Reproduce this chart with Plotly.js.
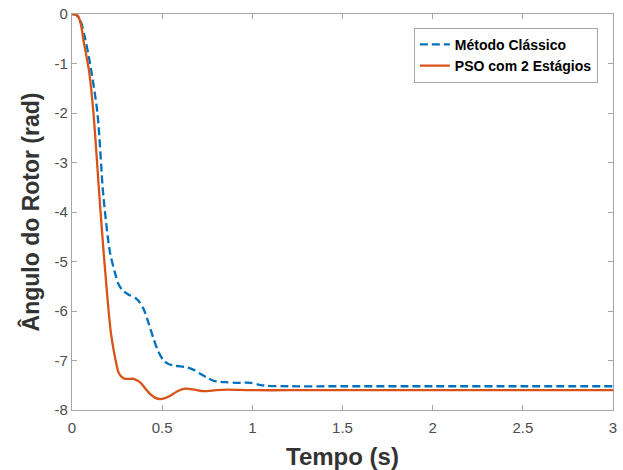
<!DOCTYPE html>
<html>
<head>
<meta charset="utf-8">
<script src="https://cdn.plot.ly/plotly-3.0.1.min.js"></script>
<style>html,body{margin:0;padding:0;background:#fff;}#chart{width:623px;height:470px;}</style>
</head>
<body>
<div id="chart"></div>
<script>
// Método Clássico
const tClassico = [0, 0.02, 0.045, 0.07, 0.1, 0.141, 0.174, 0.211, 0.24, 0.258, 0.28, 0.31, 0.36, 0.397, 0.425, 0.453, 0.48, 0.508, 0.535, 0.564, 0.6, 0.638, 0.675, 0.712, 0.75, 0.786, 0.82, 0.86, 0.92, 0.99, 1.04, 1.08, 1.2, 1.5, 2, 2.5, 3];
const yClassico = [0, -0.01, -0.12, -0.45, -1.0, -2.0, -3.68, -4.82, -5.25, -5.46, -5.58, -5.66, -5.76, -5.96, -6.25, -6.57, -6.83, -7.0, -7.07, -7.1, -7.12, -7.14, -7.19, -7.27, -7.35, -7.41, -7.43, -7.44, -7.45, -7.45, -7.49, -7.51, -7.52, -7.52, -7.52, -7.52, -7.52];
// PSO com 2 Estágios
const tPSO = [0, 0.02, 0.035, 0.05, 0.063, 0.08, 0.096, 0.119, 0.152, 0.174, 0.19, 0.202, 0.215, 0.23, 0.245, 0.258, 0.275, 0.295, 0.32, 0.341, 0.36, 0.378, 0.405, 0.434, 0.46, 0.49, 0.515, 0.545, 0.585, 0.628, 0.68, 0.73, 0.8, 0.86, 0.99, 1.2, 1.5, 2, 2.5, 3];
const yPSO = [0, -0.01, -0.05, -0.22, -0.52, -0.85, -1.19, -2.0, -3.68, -4.75, -5.45, -5.96, -6.42, -6.77, -7.05, -7.24, -7.33, -7.37, -7.37, -7.37, -7.40, -7.44, -7.56, -7.68, -7.75, -7.78, -7.76, -7.71, -7.62, -7.57, -7.59, -7.62, -7.6, -7.59, -7.6, -7.6, -7.6, -7.6, -7.6, -7.6];

const xTickVals = [0, 0.5, 1, 1.5, 2, 2.5, 3];
const xTickText = ["0", "0.5", "1", "1.5", "2", "2.5", "3"];
const yTickVals = [0, -1, -2, -3, -4, -5, -6, -7, -8];
const yTickText = ["0", "-1", "-2", "-3", "-4", "-5", "-6", "-7", "-8"];

const traces = [
  {x: tClassico, y: yClassico, name: "Método Clássico", type: "scatter", mode: "lines",
   line: {color: "#0072BD", width: 2.3, dash: "8px,4px", shape: "spline", smoothing: 0.8}},
  {x: tPSO, y: yPSO, name: "PSO com 2 Estágios", type: "scatter", mode: "lines",
   line: {color: "#D95319", width: 2.3, shape: "spline", smoothing: 0.8}}
];

const axisCommon = {
  showgrid: false, zeroline: false, showline: true, mirror: "ticks", automargin: false,
  linecolor: "#a6a6a6", linewidth: 1.2, ticks: "inside", ticklen: 5, tickcolor: "#a6a6a6",
  tickfont: {family: "Liberation Sans, Arial, sans-serif", size: 15, color: "#4d4d4d"}
};

const layout = {
  width: 623, height: 470,
  margin: {l: 72, r: 10, t: 14, b: 60},
  paper_bgcolor: "#fff", plot_bgcolor: "#fff",
  showlegend: true,
  xaxis: Object.assign({}, axisCommon, {
    range: [0, 3], tickvals: xTickVals, ticktext: xTickText, ticklabelstandoff: 4,
    title: {text: "Tempo (s)", standoff: 16, font: {family: "Liberation Sans, Arial, sans-serif", size: 24, weight: "bold", color: "#333"}}
  }),
  yaxis: Object.assign({}, axisCommon, {
    range: [-8, 0], tickvals: yTickVals, ticktext: yTickText,
    title: {text: "Ângulo do Rotor (rad)", standoff: 8, font: {family: "Liberation Sans, Arial, sans-serif", size: 23, weight: "bold", color: "#333"}}
  }),
  legend: {
    x: 0.972, y: 0.965, xanchor: "right", yanchor: "top",
    bgcolor: "#fff", bordercolor: "#a6a6a6", borderwidth: 1,
    font: {family: "Liberation Sans, Arial, sans-serif", size: 14, weight: "bold", color: "#000"},
    tracegroupgap: 0
  }
};

Plotly.newPlot("chart", traces, layout, {displayModeBar: false, staticPlot: true});
</script>
</body>
</html>
